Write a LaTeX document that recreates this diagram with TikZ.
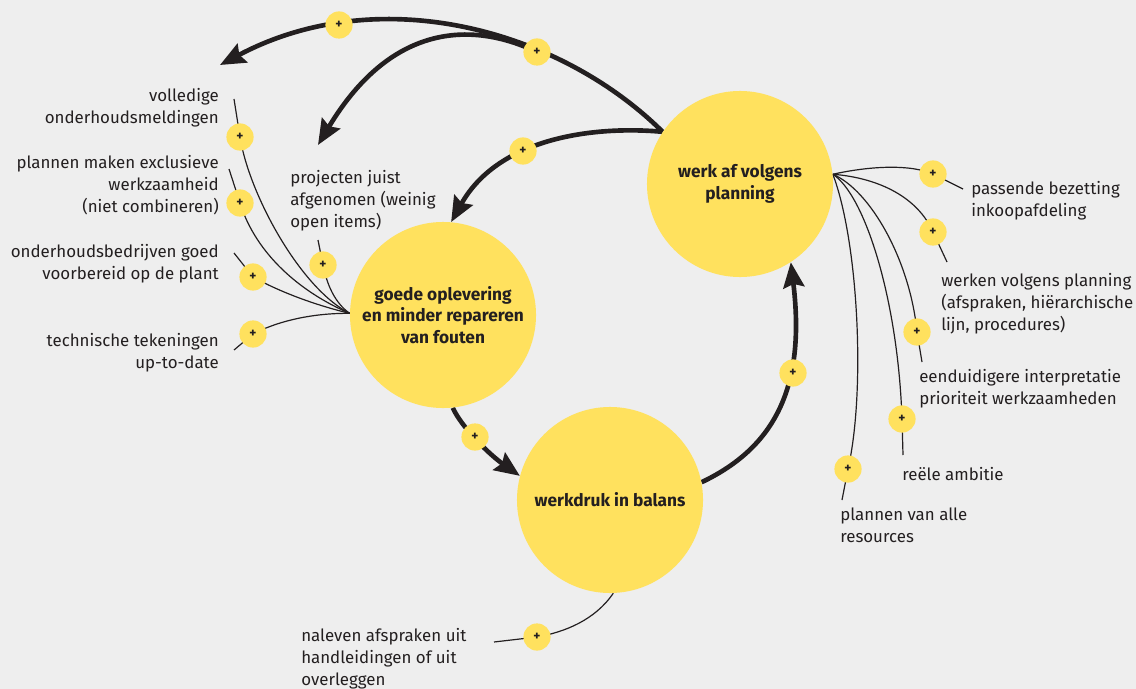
\documentclass[tikz,border=0pt]{standalone}
\usepackage{fontspec}
\setmainfont{Fira Sans}
\usetikzlibrary{arrows.meta, backgrounds}
\definecolor{bggray}{HTML}{EEEEEE}
\definecolor{sunyellow}{HTML}{FFE15E}
\definecolor{inkblack}{HTML}{231F20}

\begin{document}
\begin{tikzpicture}[x=0.025cm, y=-0.025cm,
  bigcirc/.style={circle, fill=sunyellow, minimum size=4.65cm, inner sep=0pt, align=center,
    text=inkblack, font=\bfseries\fontsize{12.3}{15.4}\selectfont},
  plusdot/.style={circle, fill=sunyellow, minimum size=0.68cm, inner sep=0pt,
    text=inkblack, font=\bfseries\fontsize{9.5}{9.5}\selectfont},
  lbl/.style={inner sep=0pt, text=inkblack, font=\fontsize{12}{15.6}\selectfont},
  link/.style={draw=inkblack, line width=0.85pt},
  flow/.style={draw=inkblack, line width=3.3pt, -{Stealth[length=18pt, width=15pt, inset=2.5pt]}}
]

% Background
\useasboundingbox (0,0) rectangle (1136,689);
\begin{scope}[on background layer]
  \fill[bggray] (0,0) rectangle (1136,689);
\end{scope}

% Main circles
\node[bigcirc] (planning) at (740,184) {werk af volgens\\planning};
\node[bigcirc] (oplevering) at (443,315) {goede oplevering\\en minder repareren\\van fouten};
\node[bigcirc] (werkdruk) at (610,500) {werkdruk in balans};

% Labels, left side
\node[lbl, anchor=north east, align=right] (lVolledig) at (219,88) {volledige\\onderhoudsmeldingen};
\node[lbl, anchor=north east, align=right] (lExclusief) at (219,155) {plannen maken exclusieve\\werkzaamheid\\(niet combineren)};
\node[lbl, anchor=north east, align=right] (lBedrijven) at (219,244) {onderhoudsbedrijven goed\\voorbereid op de plant};
\node[lbl, anchor=north east, align=right] (lTekening) at (219,333) {technische tekeningen\\up-to-date};
\node[lbl, anchor=north west, align=left] (lProjecten) at (290,170) {projecten juist\\afgenomen (weinig\\open items)};

% Labels, right side
\node[lbl, anchor=north west, align=left] (lBezetting) at (971,181) {passende bezetting\\inkoopafdeling};
\node[lbl, anchor=north west, align=left] (lWerken) at (941,273) {werken volgens planning\\(afspraken, hiërarchische\\lijn, procedures)};
\node[lbl, anchor=north west, align=left] (lPrioriteit) at (919,369) {eenduidigere interpretatie\\prioriteit werkzaamheden};
\node[lbl, anchor=north west, align=left] (lAmbitie) at (902,467) {reële ambitie};
\node[lbl, anchor=north west, align=left] (lResources) at (840,508) {plannen van alle\\resources};

% Label, bottom
\node[lbl, anchor=north west, align=left] (lNaleven) at (301,628) {naleven afspraken uit\\handleidingen of uit\\overleggen};

% Free ends of the links
\coordinate (eTop) at (220,65);
\coordinate (eProj) at (318,145);
\coordinate (eVolledig) at (234,99);
\coordinate (eExclusief) at (229,169);
\coordinate (eBedrijven) at (234,253);
\coordinate (eTekening) at (234,350);
\coordinate (eProjecten) at (318,240);
\coordinate (eBezetting) at (963,189);
\coordinate (eWerken) at (947,262);
\coordinate (ePrioriteit) at (922,362);
\coordinate (eAmbitie) at (903,455);
\coordinate (eResources) at (842,500);
\coordinate (eNaleven) at (494,642);

% Plus signs
\node[plusdot] (p1) at (339,25) {+};
\node[plusdot] (p2) at (537,52) {+};
\node[plusdot] (p3) at (523,151) {+};
\node[plusdot] (p4) at (240,137) {+};
\node[plusdot] (p5) at (240,203) {+};
\node[plusdot] (p6) at (253,277) {+};
\node[plusdot] (p7) at (253,334) {+};
\node[plusdot] (p8) at (323,265) {+};
\node[plusdot] (p9) at (933,174) {+};
\node[plusdot] (p10) at (933,232) {+};
\node[plusdot] (p11) at (917,332) {+};
\node[plusdot] (p12) at (902,419) {+};
\node[plusdot] (p13) at (848,469) {+};
\node[plusdot] (p14) at (793,373) {+};
\node[plusdot] (p15) at (475,437) {+};
\node[plusdot] (p16) at (537,637) {+};

\begin{scope}[on background layer]
  % Thick loop arrows
  \draw[flow] (planning.146) .. controls (560,30) and (380,-20) .. (eTop);
  \draw[flow] (p2.center) .. controls (470,20) and (390,25) .. (eProj);
  \draw[flow] (planning.146) .. controls (600,126) and (500,135) .. (oplevering.85);
  \draw[flow] (oplevering.-84) .. controls (462,428) and (490,455) .. (werkdruk.165);
  \draw[flow] (werkdruk.11) .. controls (780,445) and (805,380) .. (planning.-57);

  % Thin links into oplevering
  \draw[link] (eVolledig) -- (p4.center) .. controls (249,194) and (300,288) .. (oplevering.179);
  \draw[link] (eExclusief) -- (p5.center) .. controls (256,254) and (300,292) .. (oplevering.179);
  \draw[link] (eBedrijven) -- (p6.center) .. controls (280,292) and (315,305) .. (oplevering.179);
  \draw[link] (eTekening) -- (p7.center) .. controls (280,320) and (315,313) .. (oplevering.179);
  \draw[link] (eProjecten) -- (p8.center) .. controls (327,285) and (335,303) .. (oplevering.179);

  % Thin links into planning
  \draw[link] (planning.6) .. controls (870,166) and (910,164) .. (p9.center) -- (eBezetting);
  \draw[link] (planning.6) .. controls (880,178) and (918,198) .. (p10.center) -- (eWerken);
  \draw[link] (planning.6) .. controls (870,190) and (910,260) .. (p11.center) -- (ePrioriteit);
  \draw[link] (planning.6) .. controls (865,195) and (898,300) .. (p12.center) -- (eAmbitie);
  \draw[link] (planning.6) .. controls (858,240) and (866,390) .. (p13.center) -- (eResources);

  % Thin link into werkdruk
  \draw[link] (werkdruk.-88) .. controls (595,620) and (565,632) .. (p16.center) -- (eNaleven);
\end{scope}

\end{tikzpicture}
\end{document}
